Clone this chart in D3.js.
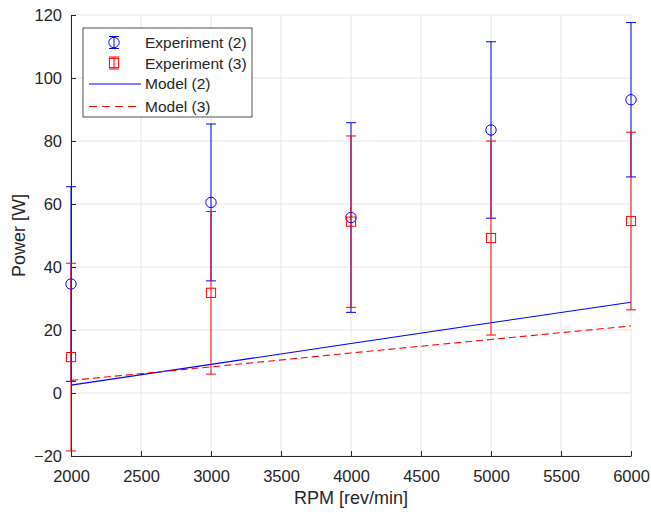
<!DOCTYPE html>
<html>
<head>
<meta charset="utf-8">
<script src="https://cdn.jsdelivr.net/npm/d3@7"></script>
<style>
  body { margin: 0; background: #fff; }
  text { font-family: "Liberation Sans", Arial, sans-serif; }
</style>
</head>
<body>
<svg id="chart"></svg>
<script>
const rpm = [2000, 3000, 4000, 5000, 6000];
const exp2 = [34.6, 60.5, 55.7, 83.5, 93.1];
const err2 = [30.9, 24.9, 30.1, 28.0, 24.5];
const exp3 = [11.4, 31.8, 54.4, 49.2, 54.6];
const err3 = [29.8, 25.8, 27.2, 30.8, 28.2];
const model2 = [2.5, 9.1, 15.7, 22.3, 28.8];
const model3 = [4.0, 8.3, 12.7, 17.0, 21.3];
const xTicks = [2000, 2500, 3000, 3500, 4000, 4500, 5000, 5500, 6000];
const yTicks = [-20, 0, 20, 40, 60, 80, 100, 120];
const legendLabels = ['Experiment (2)', 'Experiment (3)', 'Model (2)', 'Model (3)'];

const W = 651, H = 513;
const margin = { top: 15, right: 20, bottom: 57, left: 71 };
const width = W - margin.left - margin.right;
const height = H - margin.top - margin.bottom;

const svg = d3.select('#chart').attr('width', W).attr('height', H);
const g = svg.append('g').attr('transform', `translate(${margin.left},${margin.top})`);

const x = d3.scaleLinear().domain([2000, 6000]).range([0, width]);
const y = d3.scaleLinear().domain([-20, 120]).range([height, 0]);

// grid
g.append('g').selectAll('line').data(xTicks).enter().append('line')
    .attr('x1', d => x(d)).attr('x2', d => x(d))
    .attr('y1', 0).attr('y2', height)
    .attr('stroke', '#e6e6e6').attr('stroke-width', 1);
g.append('g').selectAll('line').data(yTicks).enter().append('line')
    .attr('x1', 0).attr('x2', width)
    .attr('y1', d => y(d)).attr('y2', d => y(d))
    .attr('stroke', '#e6e6e6').attr('stroke-width', 1);

// axes
const xAxis = g.append('g')
    .attr('transform', `translate(0,${height})`)
    .call(d3.axisBottom(x).tickValues(xTicks).tickFormat(d3.format('d'))
      .tickSizeInner(-5).tickSizeOuter(0).tickPadding(14));
const yAxis = g.append('g')
    .call(d3.axisLeft(y).tickValues(yTicks)
      .tickSizeInner(-5).tickSizeOuter(0).tickPadding(9));
[xAxis, yAxis].forEach(a => {
  a.select('.domain').attr('stroke', '#262626');
  a.selectAll('.tick line').attr('stroke', '#262626');
  a.selectAll('.tick text').attr('fill', '#262626').style('font-size', '16.5px')
    .style('font-family', '"Liberation Sans", Arial, sans-serif');
});

svg.append('text')
    .attr('x', margin.left + width / 2).attr('y', H - 9)
    .attr('text-anchor', 'middle').attr('fill', '#262626')
    .style('font-size', '18px').text('RPM [rev/min]');
svg.append('text')
    .attr('transform', `translate(25,${margin.top + height / 2}) rotate(-90)`)
    .attr('text-anchor', 'middle').attr('fill', '#262626')
    .style('font-size', '18px').text('Power [W]');

// model lines
const line = d3.line().x((d, i) => x(rpm[i])).y(d => y(d));
g.append('path').datum(model2).attr('d', line)
    .attr('fill', 'none').attr('stroke', '#0000ff').attr('stroke-width', 1.1);
g.append('path').datum(model3).attr('d', line)
    .attr('fill', 'none').attr('stroke', '#ff0000').attr('stroke-width', 1.1)
    .attr('stroke-dasharray', '7,4');

function errorSeries(vals, errs, color, marker) {
  const s = g.append('g');
  const cap = 5;
  vals.forEach((v, i) => {
    const cx = x(rpm[i]);
    s.append('line').attr('x1', cx).attr('x2', cx)
      .attr('y1', y(v - errs[i])).attr('y2', y(v + errs[i]))
      .attr('stroke', color).attr('stroke-width', 1);
    [v - errs[i], v + errs[i]].forEach(e => {
      s.append('line').attr('x1', cx - cap).attr('x2', cx + cap)
        .attr('y1', y(e)).attr('y2', y(e))
        .attr('stroke', color).attr('stroke-width', 1);
    });
    drawMarker(s, marker, cx, y(v), color);
  });
}

function drawMarker(s, marker, cx, cy, color) {
  if (marker === 'circle') {
    s.append('circle').attr('cx', cx).attr('cy', cy).attr('r', 5.2)
      .attr('fill', 'none').attr('stroke', color).attr('stroke-width', 1);
  } else {
    s.append('rect').attr('x', cx - 4.6).attr('y', cy - 4.6)
      .attr('width', 9.2).attr('height', 9.2)
      .attr('fill', 'none').attr('stroke', color).attr('stroke-width', 1);
  }
}

errorSeries(exp2, err2, '#0000ff', 'circle');
errorSeries(exp3, err3, '#ff0000', 'square');

// legend
const lg = svg.append('g').attr('transform', 'translate(83,28)');
lg.append('rect').attr('width', 169).attr('height', 89)
  .attr('fill', '#fff').attr('stroke', '#262626').attr('stroke-width', 0.8);
const rowY = [14.5, 35, 55.5, 78];
legendLabels.forEach((lab, i) => {
  const ry = rowY[i];
  if (i < 2) {
    const color = i === 0 ? '#0000ff' : '#ff0000';
    lg.append('line').attr('x1', 31).attr('x2', 31).attr('y1', ry - 6).attr('y2', ry + 6)
      .attr('stroke', color);
    [ry - 6, ry + 6].forEach(cy => lg.append('line').attr('x1', 26).attr('x2', 36)
      .attr('y1', cy).attr('y2', cy).attr('stroke', color));
    drawMarker(lg, i === 0 ? 'circle' : 'square', 31, ry, color);
  } else {
    lg.append('line').attr('x1', 6).attr('x2', 58).attr('y1', ry + 0.5).attr('y2', ry + 0.5)
      .attr('stroke', i === 2 ? '#0000ff' : '#ff0000')
      .attr('stroke-dasharray', i === 3 ? '8,5' : null);
  }
  lg.append('text').attr('x', 62).attr('y', ry + 5.5).attr('fill', '#262626')
    .style('font-size', '15.5px').text(lab);
});
</script>
</body>
</html>
